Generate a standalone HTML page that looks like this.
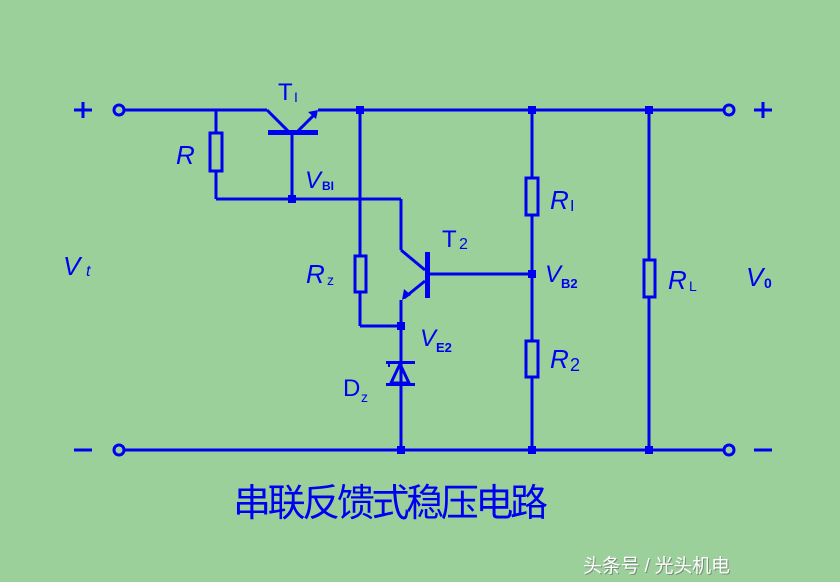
<!DOCTYPE html>
<html><head><meta charset="utf-8"><style>
html,body{margin:0;padding:0;background:#9bd09a;}
svg{display:block}
.l{font-family:"Liberation Sans",sans-serif;fill:#0000f0}
</style></head><body>
<svg width="840" height="582" viewBox="0 0 840 582" xmlns="http://www.w3.org/2000/svg">
<rect width="840" height="582" fill="#9bd09a"/>
<g stroke="#0000f0" stroke-width="3" fill="none">
<!-- top line -->
<line x1="124" y1="110" x2="267" y2="110"/>
<line x1="318" y1="110" x2="725" y2="110"/>
<circle cx="119" cy="110" r="5"/>
<circle cx="729" cy="110" r="5"/>
<!-- bottom -->
<line x1="124" y1="450" x2="725" y2="450"/>
<circle cx="119" cy="450" r="5"/>
<circle cx="729" cy="450" r="5"/>
<!-- T1 -->
<line x1="267" y1="110" x2="288" y2="131"/>
<line x1="298" y1="131" x2="316" y2="113"/>
<line x1="292" y1="133" x2="292" y2="199"/>
<!-- R -->
<line x1="216" y1="110" x2="216" y2="199"/>
<line x1="216" y1="199" x2="401" y2="199"/>
<line x1="401" y1="199" x2="401" y2="250"/>
<!-- T2 -->
<line x1="401" y1="250" x2="425" y2="270"/>
<line x1="425" y1="281" x2="404" y2="298"/>
<line x1="401" y1="300" x2="401" y2="450"/>
<line x1="430" y1="274" x2="532" y2="274"/>
<!-- Rz -->
<line x1="360" y1="110" x2="360" y2="326"/>
<line x1="360" y1="326" x2="401" y2="326"/>
<!-- right branches -->
<line x1="532" y1="110" x2="532" y2="450"/>
<line x1="649" y1="110" x2="649" y2="450"/>
<!-- +/- -->
<line x1="74" y1="110" x2="92" y2="110"/><line x1="83" y1="102" x2="83" y2="118"/>
<line x1="754" y1="110" x2="772" y2="110"/><line x1="763" y1="102" x2="763" y2="118"/>
<line x1="74" y1="450" x2="92" y2="450"/>
<line x1="754" y1="450" x2="772" y2="450"/>
</g>
<!-- resistor boxes -->
<g stroke="#0000f0" stroke-width="3" fill="#9bd09a">
<rect x="210" y="133" width="12" height="38"/>
<rect x="355" y="256" width="11" height="36"/>
<rect x="526" y="178" width="12" height="37"/>
<rect x="526" y="341" width="12" height="36"/>
<rect x="644" y="260" width="11" height="37"/>
</g>
<g fill="#0000f0">
<rect x="268" y="130" width="50" height="5"/>
<rect x="425" y="252" width="5" height="46"/>
<polygon points="318,110 308,112 316,119"/>
<polygon points="402,300 404,289 411,295"/>
<!-- junctions -->
<rect x="356" y="106" width="8" height="8"/>
<rect x="528" y="106" width="8" height="8"/>
<rect x="645" y="106" width="8" height="8"/>
<rect x="288" y="195" width="8" height="8"/>
<rect x="397" y="322" width="8" height="8"/>
<rect x="528" y="270" width="8" height="8"/>
<rect x="397" y="446" width="8" height="8"/>
<rect x="528" y="446" width="8" height="8"/>
<rect x="645" y="446" width="8" height="8"/>
<!-- zener -->
<rect x="386" y="361" width="29" height="3"/>
<rect x="386" y="383" width="29" height="3"/>
<rect x="388" y="361" width="2" height="6"/>
</g>
<polygon points="400,364 391,383 409,383" fill="none" stroke="#0000f0" stroke-width="3"/>
<!-- labels -->
<g class="l">
<text x="278" y="100" font-size="24">T</text><text x="294" y="102" font-size="14">I</text>
<text x="176" y="164" font-size="26" font-style="italic">R</text>
<text x="305" y="188" font-size="24" font-style="italic">V</text><text x="322" y="190" font-size="12" font-weight="bold">BI</text>
<text x="442" y="247" font-size="24">T</text><text x="459" y="249" font-size="16">2</text>
<text x="306" y="283" font-size="26" font-style="italic">R</text><text x="327" y="285" font-size="14">z</text>
<text x="545" y="282" font-size="24" font-style="italic">V</text><text x="561" y="288" font-size="13" font-weight="bold">B2</text>
<text x="420" y="346" font-size="24" font-style="italic">V</text><text x="436" y="352" font-size="13" font-weight="bold">E2</text>
<text x="343" y="396" font-size="24">D</text><text x="361" y="402" font-size="14">z</text>
<text x="550" y="209" font-size="26" font-style="italic">R</text><text x="570" y="211" font-size="16">I</text>
<text x="550" y="368" font-size="26" font-style="italic">R</text><text x="570" y="371" font-size="18">2</text>
<text x="668" y="289" font-size="26" font-style="italic">R</text><text x="689" y="291" font-size="14">L</text>
<text x="746" y="286" font-size="26" font-style="italic">V</text><text x="764" y="288" font-size="14" font-weight="bold">0</text>
<text x="63" y="275" font-size="26" font-style="italic">V</text><text x="86" y="276" font-size="16" font-style="italic">t</text>
</g>
<text x="233" y="516" font-family="'Liberation Sans','WenQuanYi Zen Hei',sans-serif" font-size="38" fill="#0000f0" textLength="315">串联反馈式稳压电路</text>
<text x="584" y="573" font-family="'Liberation Sans','Noto Sans CJK SC',sans-serif" font-size="19" fill="#606060" opacity="0.6" textLength="147">头条号 / 光头机电</text>
<text x="583" y="572" font-family="'Liberation Sans','Noto Sans CJK SC',sans-serif" font-size="19" fill="#ffffff" textLength="147">头条号 / 光头机电</text>
</svg>
</body></html>
